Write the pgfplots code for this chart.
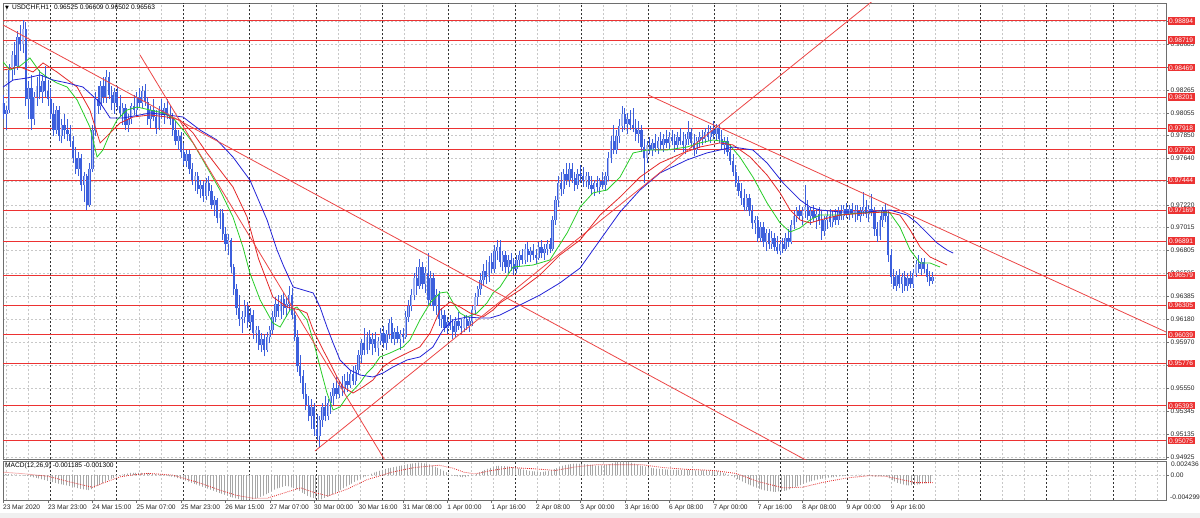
\documentclass[border=0pt]{standalone}
\usepackage{fontspec}
\setmainfont{Liberation Sans}
\newfontfamily\dejavu{DejaVu Sans}
\usepackage{pgfplots}
\usepackage{pgfplotstable}
\pgfplotsset{compat=1.18}
\usetikzlibrary{patterns.meta}

\definecolor{candle}{RGB}{60,95,220}
\definecolor{bull}{RGB}{165,182,242}
\definecolor{lvl}{RGB}{236,50,50}
\definecolor{trend}{RGB}{236,70,70}
\definecolor{magreen}{RGB}{40,205,40}
\definecolor{mared}{RGB}{228,40,40}
\definecolor{mablue}{RGB}{35,35,215}
\definecolor{gridgray}{RGB}{200,200,200}
\definecolor{frame}{RGB}{110,110,110}

\newcommand{\tl}{\fontsize{6.6}{7}\selectfont}

\pgfplotsset{
  panel/.style={scale only axis, width=1163pt, xmin=-16.23, xmax=403.17,
    scaled x ticks=false, scaled y ticks=false},
  lightgrid/.style={axis line style={draw=none}, tick style={draw=none},
    xticklabels={}, yticklabels={}, xmajorgrids, ymajorgrids,
    xtick={-15.166,-7.183,...,400},
    major grid style={draw=gridgray, line width=0.5pt, dash pattern=on 2pt off 2pt}},
  daysep/.style={extra x ticks={0.8,24.75,...,385}, extra x tick labels={},
    extra x tick style={grid=major, tick style={draw=none},
      major grid style={draw=black!80, line width=0.6pt, dash pattern=on 2pt off 2pt}}},
  body/.style={draw=none, mark=none, forget plot,
    error bars/.cd, y dir=plus, y explicit, error mark=none},
}

% USDCHF H1 bars: index (hours from 23 Mar 23:00), open, high, low, close
\pgfplotstableread{
i o h l c
-16 0.9815 0.9822 0.9800 0.9805
-15 0.9805 0.9812 0.9790 0.9808
-14 0.9808 0.9850 0.9806 0.9845
-13 0.9845 0.9862 0.9835 0.9858
-12 0.9858 0.9870 0.9840 0.9848
-11 0.9848 0.9880 0.9845 0.9875
-10 0.9875 0.9886 0.9862 0.9868
-9 0.9868 0.9890 0.9860 0.9882
-8 0.9882 0.9888 0.9812 0.9818
-7 0.9818 0.9835 0.9800 0.9828
-6 0.9828 0.9840 0.9790 0.9800
-5 0.9800 0.9825 0.9795 0.9820
-4 0.9820 0.9838 0.9812 0.9830
-3 0.9830 0.9845 0.9818 0.9825
-2 0.9825 0.9840 0.9815 0.9835
-1 0.9835 0.9848 0.9820 0.9826
0 0.9826 0.9836 0.9812 0.9818
1 0.9818 0.9828 0.9800 0.9805
2 0.9805 0.9815 0.9785 0.9790
3 0.9790 0.9812 0.9786 0.9808
4 0.9808 0.9812 0.9780 0.9785
5 0.9785 0.9800 0.9778 0.9795
6 0.9795 0.9805 0.9782 0.9790
7 0.9790 0.9800 0.9780 0.9786
8 0.9786 0.9795 0.9775 0.9780
9 0.9780 0.9785 0.9760 0.9765
10 0.9765 0.9775 0.9750 0.9755
11 0.9755 0.9770 0.9748 0.9765
12 0.9765 0.9768 0.9735 0.9740
13 0.9740 0.9752 0.9725 0.9748
14 0.9748 0.9750 0.9717 0.9722
15 0.9722 0.9760 0.9720 0.9755
16 0.9755 0.9795 0.9752 0.9790
17 0.9790 0.9825 0.9785 0.9818
18 0.9818 0.9830 0.9805 0.9812
19 0.9812 0.9835 0.9808 0.9830
20 0.9830 0.9838 0.9815 0.9820
21 0.9820 0.9845 0.9815 0.9838
22 0.9838 0.9843 0.9818 0.9822
23 0.9822 0.9830 0.9808 0.9815
24 0.9815 0.9828 0.9805 0.9825
25 0.9825 0.9830 0.9808 0.9812
26 0.9812 0.9822 0.9802 0.9806
27 0.9806 0.9815 0.9795 0.9810
28 0.9810 0.9814 0.9790 0.9795
29 0.9795 0.9805 0.9788 0.9800
30 0.9800 0.9815 0.9796 0.9812
31 0.9812 0.9822 0.9804 0.9808
32 0.9808 0.9825 0.9803 0.9820
33 0.9820 0.9828 0.9810 0.9815
34 0.9815 0.9830 0.9810 0.9826
35 0.9826 0.9832 0.9812 0.9816
36 0.9816 0.9820 0.9795 0.9800
37 0.9800 0.9812 0.9792 0.9808
38 0.9808 0.9818 0.9798 0.9802
39 0.9802 0.9808 0.9786 0.9792
40 0.9792 0.9812 0.9790 0.9808
41 0.9808 0.9818 0.9800 0.9805
42 0.9805 0.9815 0.9796 0.9810
43 0.9810 0.9818 0.9800 0.9804
44 0.9804 0.9812 0.9795 0.9800
45 0.9800 0.9806 0.9785 0.9790
46 0.9790 0.9798 0.9776 0.9780
47 0.9780 0.9790 0.9772 0.9785
48 0.9785 0.9788 0.9765 0.9770
49 0.9770 0.9778 0.9758 0.9762
50 0.9762 0.9772 0.9756 0.9768
51 0.9768 0.9772 0.9750 0.9755
52 0.9755 0.9760 0.9740 0.9745
53 0.9745 0.9752 0.9735 0.9748
54 0.9748 0.9752 0.9732 0.9736
55 0.9736 0.9745 0.9728 0.9740
56 0.9740 0.9744 0.9725 0.9730
57 0.9730 0.9746 0.9726 0.9742
58 0.9742 0.9748 0.9730 0.9735
59 0.9735 0.9740 0.9718 0.9722
60 0.9722 0.9730 0.9712 0.9726
61 0.9726 0.9728 0.9705 0.9710
62 0.9710 0.9718 0.9700 0.9715
63 0.9715 0.9718 0.9690 0.9695
64 0.9695 0.9702 0.9680 0.9686
65 0.9686 0.9695 0.9676 0.9690
66 0.9690 0.9692 0.9660 0.9665
67 0.9665 0.9668 0.9640 0.9645
68 0.9645 0.9650 0.9622 0.9628
69 0.9628 0.9640 0.9612 0.9618
70 0.9618 0.9625 0.9605 0.9620
71 0.9620 0.9635 0.9614 0.9630
72 0.9630 0.9634 0.9610 0.9615
73 0.9615 0.9628 0.9608 0.9622
74 0.9622 0.9626 0.9600 0.9605
75 0.9605 0.9612 0.9596 0.9608
76 0.9608 0.9612 0.9590 0.9594
77 0.9594 0.9605 0.9588 0.9600
78 0.9600 0.9604 0.9584 0.9590
79 0.9590 0.9606 0.9588 0.9602
80 0.9602 0.9612 0.9596 0.9608
81 0.9608 0.9625 0.9604 0.9620
82 0.9620 0.9638 0.9615 0.9632
83 0.9632 0.9640 0.9620 0.9625
84 0.9625 0.9640 0.9618 0.9636
85 0.9636 0.9642 0.9622 0.9628
86 0.9628 0.9638 0.9620 0.9632
87 0.9632 0.9648 0.9625 0.9640
88 0.9640 0.9646 0.9618 0.9622
89 0.9622 0.9628 0.9598 0.9602
90 0.9602 0.9608 0.9570 0.9575
91 0.9575 0.9585 0.9560 0.9566
92 0.9566 0.9572 0.9545 0.9550
93 0.9550 0.9560 0.9535 0.9540
94 0.9540 0.9548 0.9525 0.9530
95 0.9530 0.9545 0.9518 0.9538
96 0.9538 0.9542 0.9512 0.9518
97 0.9518 0.9532 0.9508 0.9512
98 0.9512 0.9530 0.9501 0.9526
99 0.9526 0.9542 0.9520 0.9538
100 0.9538 0.9548 0.9525 0.9530
101 0.9530 0.9545 0.9526 0.9542
102 0.9542 0.9552 0.9532 0.9548
103 0.9548 0.9560 0.9540 0.9555
104 0.9555 0.9565 0.9545 0.9550
105 0.9550 0.9562 0.9546 0.9558
106 0.9558 0.9566 0.9548 0.9554
107 0.9554 0.9568 0.9550 0.9562
108 0.9562 0.9570 0.9552 0.9558
109 0.9558 0.9572 0.9555 0.9568
110 0.9568 0.9575 0.9558 0.9562
111 0.9562 0.9576 0.9558 0.9572
112 0.9572 0.9590 0.9568 0.9585
113 0.9585 0.9600 0.9578 0.9596
114 0.9596 0.9610 0.9585 0.9590
115 0.9590 0.9606 0.9586 0.9602
116 0.9602 0.9608 0.9590 0.9595
117 0.9595 0.9605 0.9585 0.9600
118 0.9600 0.9606 0.9588 0.9592
119 0.9592 0.9602 0.9584 0.9598
120 0.9598 0.9610 0.9594 0.9605
121 0.9605 0.9612 0.9592 0.9596
122 0.9596 0.9608 0.9590 0.9604
123 0.9604 0.9618 0.9600 0.9614
124 0.9614 0.9620 0.9596 0.9600
125 0.9600 0.9610 0.9594 0.9606
126 0.9606 0.9612 0.9596 0.9600
127 0.9600 0.9608 0.9590 0.9604
128 0.9604 0.9610 0.9596 0.9602
129 0.9602 0.9625 0.9600 0.9620
130 0.9620 0.9635 0.9615 0.9630
131 0.9630 0.9645 0.9625 0.9640
132 0.9640 0.9660 0.9635 0.9655
133 0.9655 0.9665 0.9640 0.9648
134 0.9648 0.9673 0.9645 0.9665
135 0.9665 0.9670 0.9645 0.9650
136 0.9650 0.9665 0.9642 0.9660
137 0.9660 0.9678 0.9630 0.9635
138 0.9635 0.9662 0.9630 0.9655
139 0.9655 0.9660 0.9625 0.9630
140 0.9630 0.9645 0.9622 0.9640
141 0.9640 0.9644 0.9612 0.9618
142 0.9618 0.9628 0.9610 0.9622
143 0.9622 0.9626 0.9606 0.9610
144 0.9610 0.9620 0.9604 0.9615
145 0.9615 0.9622 0.9608 0.9612
146 0.9612 0.9618 0.9600 0.9606
147 0.9606 0.9620 0.9602 0.9616
148 0.9616 0.9624 0.9608 0.9612
149 0.9612 0.9618 0.9604 0.9610
150 0.9610 0.9622 0.9606 0.9618
151 0.9618 0.9622 0.9608 0.9612
152 0.9612 0.9620 0.9606 0.9616
153 0.9616 0.9630 0.9612 0.9626
154 0.9626 0.9642 0.9622 0.9638
155 0.9638 0.9648 0.9630 0.9645
156 0.9645 0.9660 0.9640 0.9654
157 0.9654 0.9668 0.9648 0.9662
158 0.9662 0.9672 0.9650 0.9656
159 0.9656 0.9675 0.9652 0.9670
160 0.9670 0.9678 0.9660 0.9664
161 0.9664 0.9685 0.9660 0.9680
162 0.9680 0.9690 0.9672 0.9684
163 0.9684 0.9690 0.9665 0.9670
164 0.9670 0.9680 0.9662 0.9676
165 0.9676 0.9680 0.9660 0.9665
166 0.9665 0.9676 0.9660 0.9672
167 0.9672 0.9678 0.9662 0.9668
168 0.9668 0.9674 0.9658 0.9664
169 0.9664 0.9676 0.9660 0.9672
170 0.9672 0.9680 0.9666 0.9676
171 0.9676 0.9682 0.9668 0.9672
172 0.9672 0.9686 0.9668 0.9682
173 0.9682 0.9688 0.9670 0.9676
174 0.9676 0.9684 0.9670 0.9680
175 0.9680 0.9686 0.9672 0.9676
176 0.9676 0.9682 0.9668 0.9674
177 0.9674 0.9688 0.9672 0.9684
178 0.9684 0.9690 0.9674 0.9678
179 0.9678 0.9686 0.9672 0.9682
180 0.9682 0.9690 0.9676 0.9686
181 0.9686 0.9692 0.9678 0.9682
182 0.9682 0.9712 0.9680 0.9708
183 0.9708 0.9730 0.9704 0.9726
184 0.9726 0.9748 0.9720 0.9742
185 0.9742 0.9752 0.9730 0.9736
186 0.9736 0.9755 0.9732 0.9750
187 0.9750 0.9760 0.9740 0.9745
188 0.9745 0.9760 0.9738 0.9755
189 0.9755 0.9760 0.9742 0.9746
190 0.9746 0.9752 0.9735 0.9740
191 0.9740 0.9755 0.9736 0.9750
192 0.9750 0.9758 0.9742 0.9748
193 0.9748 0.9756 0.9738 0.9744
194 0.9744 0.9752 0.9738 0.9748
195 0.9748 0.9752 0.9736 0.9740
196 0.9740 0.9748 0.9732 0.9736
197 0.9736 0.9745 0.9730 0.9742
198 0.9742 0.9748 0.9734 0.9738
199 0.9738 0.9746 0.9732 0.9744
200 0.9744 0.9752 0.9736 0.9740
201 0.9740 0.9752 0.9735 0.9748
202 0.9748 0.9770 0.9744 0.9765
203 0.9765 0.9785 0.9760 0.9780
204 0.9780 0.9795 0.9768 0.9772
205 0.9772 0.9790 0.9768 0.9785
206 0.9785 0.9800 0.9778 0.9794
207 0.9794 0.9812 0.9788 0.9805
208 0.9805 0.9810 0.9790 0.9796
209 0.9796 0.9806 0.9786 0.9800
210 0.9800 0.9808 0.9790 0.9795
211 0.9795 0.9810 0.9788 0.9792
212 0.9792 0.9800 0.9780 0.9786
213 0.9786 0.9798 0.9778 0.9790
214 0.9790 0.9795 0.9770 0.9775
215 0.9775 0.9782 0.9742 0.9765
216 0.9765 0.9780 0.9760 0.9776
217 0.9776 0.9784 0.9768 0.9772
218 0.9772 0.9782 0.9766 0.9778
219 0.9778 0.9786 0.9770 0.9774
220 0.9774 0.9784 0.9768 0.9780
221 0.9780 0.9788 0.9772 0.9776
222 0.9776 0.9786 0.9770 0.9782
223 0.9782 0.9790 0.9774 0.9778
224 0.9778 0.9788 0.9772 0.9784
225 0.9784 0.9790 0.9776 0.9780
226 0.9780 0.9786 0.9770 0.9776
227 0.9776 0.9788 0.9772 0.9784
228 0.9784 0.9792 0.9776 0.9780
229 0.9780 0.9788 0.9770 0.9776
230 0.9776 0.9786 0.9768 0.9782
231 0.9782 0.9798 0.9776 0.9788
232 0.9788 0.9792 0.9774 0.9778
233 0.9778 0.9786 0.9766 0.9772
234 0.9772 0.9784 0.9768 0.9780
235 0.9780 0.9788 0.9774 0.9784
236 0.9784 0.9790 0.9776 0.9782
237 0.9782 0.9792 0.9778 0.9788
238 0.9788 0.9795 0.9780 0.9784
239 0.9784 0.9794 0.9778 0.9790
240 0.9790 0.9798 0.9782 0.9786
241 0.9786 0.9796 0.9780 0.9792
242 0.9792 0.9796 0.9778 0.9782
243 0.9782 0.9790 0.9772 0.9776
244 0.9776 0.9784 0.9768 0.9780
245 0.9780 0.9784 0.9766 0.9770
246 0.9770 0.9776 0.9758 0.9762
247 0.9762 0.9768 0.9748 0.9752
248 0.9752 0.9758 0.9738 0.9742
249 0.9742 0.9748 0.9730 0.9735
250 0.9735 0.9742 0.9722 0.9728
251 0.9728 0.9736 0.9716 0.9720
252 0.9720 0.9732 0.9716 0.9728
253 0.9728 0.9732 0.9712 0.9716
254 0.9716 0.9722 0.9700 0.9705
255 0.9705 0.9712 0.9695 0.9708
256 0.9708 0.9712 0.9688 0.9692
257 0.9692 0.9706 0.9688 0.9702
258 0.9702 0.9706 0.9684 0.9688
259 0.9688 0.9700 0.9680 0.9696
260 0.9696 0.9700 0.9682 0.9686
261 0.9686 0.9698 0.9682 0.9692
262 0.9692 0.9696 0.9680 0.9684
263 0.9684 0.9694 0.9677 0.9680
264 0.9680 0.9690 0.9676 0.9686
265 0.9686 0.9692 0.9678 0.9682
266 0.9682 0.9696 0.9680 0.9692
267 0.9692 0.9700 0.9684 0.9688
268 0.9688 0.9708 0.9686 0.9704
269 0.9704 0.9716 0.9700 0.9712
270 0.9712 0.9720 0.9706 0.9716
271 0.9716 0.9722 0.9708 0.9712
272 0.9712 0.9720 0.9704 0.9716
273 0.9716 0.9740 0.9710 0.9720
274 0.9720 0.9726 0.9708 0.9712
275 0.9712 0.9720 0.9704 0.9716
276 0.9716 0.9722 0.9706 0.9710
277 0.9710 0.9718 0.9700 0.9714
278 0.9714 0.9720 0.9704 0.9708
279 0.9708 0.9716 0.9690 0.9698
280 0.9698 0.9712 0.9694 0.9708
281 0.9708 0.9716 0.9700 0.9712
282 0.9712 0.9718 0.9702 0.9706
283 0.9706 0.9716 0.9702 0.9712
284 0.9712 0.9718 0.9704 0.9708
285 0.9708 0.9720 0.9704 0.9716
286 0.9716 0.9722 0.9708 0.9712
287 0.9712 0.9722 0.9708 0.9718
288 0.9718 0.9724 0.9710 0.9714
289 0.9714 0.9722 0.9708 0.9718
290 0.9718 0.9724 0.9710 0.9714
291 0.9714 0.9722 0.9706 0.9716
292 0.9716 0.9722 0.9708 0.9712
293 0.9712 0.9720 0.9706 0.9716
294 0.9716 0.9734 0.9712 0.9720
295 0.9720 0.9726 0.9710 0.9714
296 0.9714 0.9722 0.9706 0.9718
297 0.9718 0.9732 0.9712 0.9716
298 0.9716 0.9720 0.9694 0.9700
299 0.9700 0.9706 0.9688 0.9694
300 0.9694 0.9712 0.9690 0.9708
301 0.9708 0.9720 0.9702 0.9716
302 0.9716 0.9724 0.9706 0.9712
303 0.9712 0.9716 0.9670 0.9676
304 0.9676 0.9682 0.9650 0.9656
305 0.9656 0.9664 0.9645 0.9648
306 0.9648 0.9662 0.9644 0.9658
307 0.9658 0.9664 0.9646 0.9650
308 0.9650 0.9660 0.9642 0.9656
309 0.9656 0.9662 0.9644 0.9648
310 0.9648 0.9660 0.9644 0.9655
311 0.9655 0.9662 0.9646 0.9650
312 0.9650 0.9664 0.9646 0.9660
313 0.9660 0.9672 0.9656 0.9668
314 0.9668 0.9676 0.9660 0.9664
315 0.9664 0.9674 0.9658 0.9670
316 0.9670 0.9674 0.9660 0.9664
317 0.9664 0.9668 0.9652 0.9656
318 0.9656 0.9662 0.9648 0.96525
319 0.96525 0.96609 0.96502 0.96563
}\candles

\begin{document}
\begin{tikzpicture}
\fill[white] (0,0) rectangle (1200pt,518pt);
\path[use as bounding box] (0,0) rectangle (1200pt,518pt);
\fill[black!6] (0,0) rectangle (1200pt,5pt);

% ---------- price panel: light grid ----------
\begin{axis}[panel, lightgrid, at={(3pt,58.5pt)}, anchor=south west, height=456.5pt,
  ymin=0.949022, ymax=0.990568,
  ytick={0.94925,0.95135,0.95345,0.95550,0.95760,0.95970,0.96180,0.96385,0.96595,0.96805,
         0.97015,0.97220,0.97430,0.97640,0.97850,0.98055,0.98265,0.98475,0.98685,0.98895}]
\end{axis}

% ---------- price panel ----------
\begin{axis}[panel, daysep,
  name=main, at={(3pt,58.5pt)}, anchor=south west, height=456.5pt,
  ymin=0.949022, ymax=0.990568,
  axis line style={draw=frame, line width=0.8pt},
  xtick=\empty,
  ytick={0.94925,0.95135,0.95345,0.95550,0.95760,0.95970,0.96180,0.96385,0.96595,0.96805,
         0.97015,0.97220,0.97430,0.97640,0.97850,0.98055,0.98265,0.98475,0.98685,0.98895},
  yticklabels={0.94925,0.95135,0.95345,0.95550,0.95760,0.95970,0.96180,0.96385,0.96595,0.96805,
         0.97015,0.97220,0.97430,0.97640,0.97850,0.98055,0.98265,0.98475,0.98685,0.98895},
  ytick pos=right, yticklabel pos=right, tick align=outside, major tick length=3pt,
  ytick style={draw=frame, line width=0.5pt},
  tick label style={font=\tl, text=black!85},
  yticklabel style={anchor=west, inner xsep=1.5pt},
  extra y ticks={0.98894,0.98719,0.98469,0.98201,0.97918,0.97720,0.97444,0.97169,
                 0.96891,0.96579,0.96305,0.96039,0.95776,0.95393,0.95075},
  extra y tick labels={0.98894,0.98719,0.98469,0.98201,0.97918,0.97720,0.97444,0.97169,
                 0.96891,0.96579,0.96305,0.96039,0.95776,0.95393,0.95075},
  extra y tick style={grid=major, major tick length=0pt,
    major grid style={draw=lvl, line width=0.8pt, solid},
    tick label style={fill=lvl, text=white, inner xsep=2.5pt, inner ysep=1.2pt,
      text height=5pt, text depth=0pt, xshift=1.5pt}},
]
% wicks
\addplot[body, error bar style={draw=candle, line width=0.8pt}]
  table[x=i, y=l, y error expr=\thisrow{h}-\thisrow{l}] {\candles};
% bearish bodies
\addplot[body, error bar style={draw=candle, line width=2.3pt}]
  table[x=i, y expr={\thisrow{c}<\thisrow{o} ? \thisrow{c} : nan},
        y error expr=\thisrow{o}-\thisrow{c}] {\candles};
% bullish bodies: outline, then light fill
\addplot[body, error bar style={draw=candle, line width=2.4pt}]
  table[x=i, y expr={\thisrow{c}>=\thisrow{o} ? \thisrow{o} : nan},
        y error expr=\thisrow{c}-\thisrow{o}] {\candles};
\addplot[body, error bar style={draw=bull, line width=1.1pt}]
  table[x=i, y expr={\thisrow{c}>=\thisrow{o} ? \thisrow{o} : nan},
        y error expr=\thisrow{c}-\thisrow{o}] {\candles};

% moving averages
\addplot[magreen, line width=0.8pt, mark=none] coordinates {
(-16.2,0.98520) (-13.7,0.98447) (-10.1,0.98483) (-6.5,0.98556) (-2.9,0.98429) (-0.4,0.98383)
(3.2,0.98329) (6.9,0.98292) (10.5,0.98174) (15.1,0.97928) (17.7,0.97655) (19.8,0.97719)
(22.4,0.97874) (24.9,0.97992) (28.5,0.98083) (32.1,0.98110) (36.8,0.98083) (41.5,0.98056)
(45.1,0.98010) (48.7,0.97901) (52.3,0.97783) (57.3,0.97564) (62.0,0.97355) (66.7,0.97109)
(70.3,0.96836) (72.8,0.96600) (76.5,0.96354) (81.1,0.96144) (83.7,0.96108) (87.3,0.96263)
(89.8,0.96290) (93.4,0.96172) (95.6,0.95990) (98.1,0.95744) (100.6,0.95508) (102.8,0.95353)
(105.3,0.95380) (107.8,0.95471) (112.5,0.95598) (115.0,0.95689) (117.2,0.95744) (119.7,0.95835)
(123.3,0.95871) (128.0,0.95926) (130.5,0.95990) (134.1,0.96172) (137.8,0.96327) (141.4,0.96418)
(143.9,0.96427) (146.1,0.96327) (148.6,0.96235) (151.1,0.96199) (154.7,0.96235) (158.3,0.96327)
(160.5,0.96418) (163.0,0.96472) (167.7,0.96654) (174.9,0.96672) (181.0,0.96718) (187.2,0.96964)
(191.9,0.97200) (196.5,0.97328) (201.6,0.97355) (206.3,0.97473) (211.0,0.97692) (216.0,0.97719)
(223.2,0.97719) (230.4,0.97746) (235.1,0.97783) (239.8,0.97810) (244.9,0.97792) (249.5,0.97655)
(254.2,0.97473) (259.3,0.97237) (264.0,0.97055) (267.6,0.96973) (271.2,0.97009) (274.8,0.97082)
(278.4,0.97127) (285.6,0.97127) (292.8,0.97146) (300.0,0.97155) (303.6,0.97146) (307.2,0.97018)
(310.9,0.96809) (314.5,0.96690) (318.1,0.96690) (321.7,0.96654)
};
\addplot[mared, line width=0.8pt, mark=none] coordinates {
(-16.2,0.98447) (-10.1,0.98474) (-5.4,0.98429) (-1.8,0.98511) (3.2,0.98429) (10.5,0.98292)
(15.1,0.98083) (18.8,0.97783) (22.4,0.97874) (26.0,0.97965) (30.7,0.98019) (36.8,0.98038)
(42.9,0.98019) (47.6,0.97992) (52.3,0.97874) (57.3,0.97692) (62.0,0.97537) (66.7,0.97382)
(71.8,0.97109) (75.9,0.96730) (81.1,0.96381) (86.2,0.96290) (90.9,0.96263) (93.4,0.96235)
(95.6,0.96081) (99.2,0.95899) (101.7,0.95780) (104.2,0.95653) (106.4,0.95562) (110.0,0.95507)
(113.6,0.95562) (117.2,0.95626) (120.8,0.95744) (124.4,0.95808) (129.5,0.95871) (134.1,0.95926)
(137.8,0.96054) (141.4,0.96263) (145.0,0.96336) (148.6,0.96290) (152.2,0.96235) (156.9,0.96199)
(160.5,0.96263) (163.0,0.96327) (170.2,0.96445) (177.4,0.96582) (184.6,0.96763) (191.9,0.96900)
(199.1,0.97127) (206.3,0.97291) (213.5,0.97473) (220.7,0.97601) (229.0,0.97692) (235.1,0.97746)
(242.3,0.97783) (247.0,0.97765) (253.2,0.97655) (259.3,0.97491) (264.0,0.97328) (267.6,0.97173)
(271.2,0.97082) (274.8,0.97055) (278.4,0.97082) (285.6,0.97127) (295.3,0.97146) (302.6,0.97155)
(307.2,0.97127) (310.9,0.96991) (314.5,0.96836) (318.1,0.96745) (324.2,0.96672)
};
\addplot[mablue, line width=0.8pt, mark=none] coordinates {
(-16.2,0.98292) (-12.6,0.98356) (-7.6,0.98374) (-2.9,0.98402) (1.8,0.98356) (6.9,0.98329)
(12.6,0.98292) (18.8,0.98150) (22.4,0.98010) (27.0,0.98010) (33.2,0.98038) (36.8,0.98056)
(42.9,0.98038) (48.7,0.98019) (54.8,0.97901) (60.9,0.97810) (66.7,0.97655) (72.8,0.97446)
(79.0,0.97082) (82.6,0.96809) (84.8,0.96672) (88.4,0.96472) (95.6,0.96418) (98.1,0.96290)
(100.6,0.96108) (102.8,0.95963) (105.3,0.95808) (108.9,0.95717) (112.5,0.95671) (117.2,0.95653)
(120.8,0.95689) (124.4,0.95744) (129.5,0.95808) (134.1,0.95835) (138.8,0.95926) (142.4,0.96081)
(146.1,0.96172) (151.1,0.96199) (155.8,0.96190) (159.4,0.96190) (163.0,0.96217) (170.2,0.96308)
(177.4,0.96399) (184.6,0.96509) (191.9,0.96645) (199.1,0.96900) (206.3,0.97155) (213.5,0.97355)
(220.7,0.97510) (230.4,0.97628) (237.6,0.97692) (242.3,0.97719) (247.0,0.97746) (254.2,0.97719)
(259.3,0.97601) (265.1,0.97419) (271.2,0.97264) (274.8,0.97200) (278.4,0.97173) (285.6,0.97155)
(295.3,0.97155) (303.6,0.97173) (309.8,0.97127) (313.4,0.97055) (317.0,0.96964) (320.6,0.96873)
(324.2,0.96809) (326.4,0.96781)
};

% trend lines
\addplot[trend, line width=0.8pt] coordinates {(-16.23,0.98857) (278.4,0.94827)};
\addplot[trend, line width=0.8pt] coordinates {(33.18,0.98584) (125.1,0.94745)};
\addplot[trend, line width=0.8pt] coordinates {(96.29,0.94980) (303.6,0.99202)};
\addplot[trend, line width=0.8pt] coordinates {(216.4,0.98220) (403.17,0.96063)};
\end{axis}

% ---------- MACD panel: light grid ----------
\begin{axis}[panel, lightgrid, at={(3pt,18pt)}, anchor=south west, height=39pt,
  ymin=-0.004299, ymax=0.002436, ytick={0}]
\end{axis}

% ---------- MACD panel ----------
\begin{axis}[panel, daysep,
  name=macd, at={(3pt,18pt)}, anchor=south west, height=39pt,
  ymin=-0.004299, ymax=0.002436,
  axis line style={draw=frame, line width=0.8pt},
  xtick={-16.2,0,16,32,48,64,80,96,112,128,144,160,176,192,208,224,240,256,272,288,304},
  xticklabels={23 Mar 2020,23 Mar 23:00,24 Mar 15:00,25 Mar 07:00,25 Mar 23:00,26 Mar 15:00,
    27 Mar 07:00,30 Mar 00:00,30 Mar 16:00,31 Mar 08:00,1 Apr 00:00,1 Apr 16:00,2 Apr 08:00,
    3 Apr 00:00,3 Apr 16:00,6 Apr 08:00,7 Apr 00:00,7 Apr 16:00,8 Apr 08:00,9 Apr 00:00,9 Apr 16:00},
  xtick pos=bottom, tick align=outside, major tick length=3pt,
  tick style={draw=frame, line width=0.5pt},
  tick label style={font=\tl, text=black!85},
  xticklabel style={anchor=north west, xshift=-1.2pt, inner xsep=1pt, inner ysep=2pt},
  ytick={0}, yticklabels={0.00}, ytick pos=right, yticklabel pos=right,
  yticklabel style={anchor=west, inner xsep=1.5pt},
]
% MACD main line as histogram
\addplot[draw=none, pattern={Lines[angle=90,distance=2.77pt,line width=0.6pt]},
  pattern color=black!35] coordinates {
(-16,0.0002) (-12,0.0001) (-8,-0.0001) (-4,-0.0005) (0,-0.0010) (4,-0.0015) (8,-0.0019)
(12,-0.0024) (15,-0.0026) (18,-0.0018) (22,-0.0008) (26,0.0000) (30,0.0004) (34,0.0004)
(38,0.0002) (42,0.0000) (46,-0.0004) (50,-0.0010) (54,-0.0017) (58,-0.0024) (62,-0.0031)
(66,-0.0038) (70,-0.0043) (74,-0.0042) (78,-0.0035) (82,-0.0024) (86,-0.0018) (90,-0.0025)
(94,-0.0037) (98,-0.0043) (102,-0.0035) (106,-0.0024) (110,-0.0013) (114,-0.0003) (118,0.0005)
(122,0.0011) (126,0.0015) (130,0.0019) (134,0.0022) (138,0.0018) (142,0.0009) (146,-0.0001)
(150,-0.0004) (154,0.0001) (158,0.0010) (162,0.0016) (166,0.0015) (170,0.0011) (174,0.0007)
(178,0.0005) (182,0.0009) (186,0.0017) (190,0.0020) (194,0.0019) (198,0.0016) (202,0.0018)
(206,0.0024) (210,0.0022) (214,0.0016) (218,0.0012) (222,0.0010) (226,0.0009) (230,0.0009)
(234,0.0008) (238,0.0008) (242,0.0006) (246,0.0000) (250,-0.0010) (254,-0.0019) (258,-0.0026)
(262,-0.0029) (266,-0.0027) (270,-0.0020) (274,-0.0012) (278,-0.0007) (282,-0.0004) (286,-0.0002)
(290,0.0000) (294,0.0001) (298,-0.0003) (302,-0.0001) (306,-0.0013) (310,-0.0018) (314,-0.0016)
(319,-0.0012)
} \closedcycle;
% signal line
\addplot[mared, line width=0.8pt, dash pattern=on 0.8pt off 1.2pt, mark=none] coordinates {
(-16,0.0005) (-8,0.0002) (0,-0.0002) (8,-0.0012) (16,-0.0021) (22,-0.0010) (26,-0.0003)
(30,0.0000) (36,0.0003) (45,0.0000) (55,-0.0014) (62,-0.0026) (68,-0.0035) (74,-0.0040)
(79,-0.0040) (85,-0.0031) (91,-0.0022) (96,-0.0030) (101,-0.0036) (108,-0.0024) (115,-0.0008)
(124,0.0005) (132,0.0013) (141,0.0017) (146,0.0012) (150,0.0005) (154,0.0002) (160,0.0008)
(167,0.0013) (175,0.0011) (183,0.0008) (190,0.0014) (198,0.0018) (206,0.0018) (214,0.0018)
(222,0.0013) (230,0.0010) (240,0.0008) (248,0.0003) (256,-0.0011) (265,-0.0022) (272,-0.0021)
(280,-0.0012) (288,-0.0005) (296,-0.0001) (302,-0.0002) (308,-0.0008) (313,-0.0013) (319,-0.0013)
};
\end{axis}

% panel texts
\node[anchor=north west, font=\tl, text=black!85, inner sep=0pt] at ([xshift=5pt,yshift=-1pt]macd.north east) {0.002436};
\node[anchor=south west, font=\tl, text=black!85, inner sep=0pt] at ([xshift=4pt,yshift=0.5pt]macd.south east) {-0.004299};
\node[anchor=west, font=\tl, inner sep=0pt] at (5pt,52pt) {MACD(12,26,9) -0.001185 -0.001300};
\node[anchor=west, font=\tl, inner sep=0pt] at (5pt,510pt)
  {{\dejavu\fontsize{5}{5}\selectfont ▼}\hspace{3pt}USDCHF,H1\hspace{5pt}0.96525 0.96609 0.96502 0.96563};
\end{tikzpicture}
\end{document}
